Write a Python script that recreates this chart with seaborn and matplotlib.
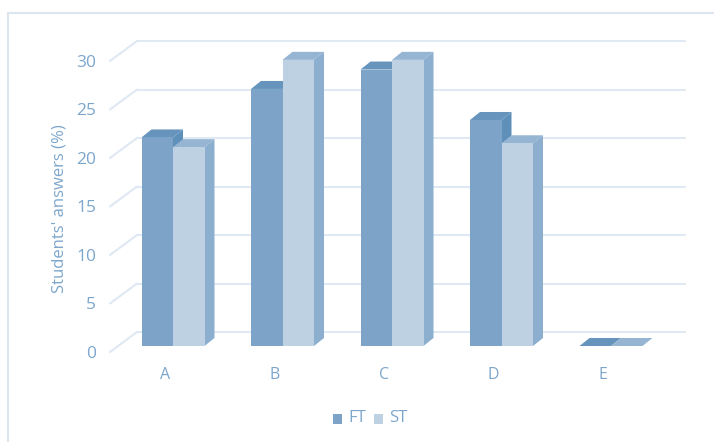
import matplotlib
matplotlib.use("Agg")
import matplotlib.pyplot as plt
import pandas as pd
import seaborn as sns
from matplotlib.patches import Polygon, Rectangle
from matplotlib.transforms import ScaledTranslation

categories = ["A", "B", "C", "D", "E"]
ft_values = [21.5, 26.5, 28.5, 23.3, 0]
st_values = [20.5, 29.5, 29.5, 20.9, 0]
y_ticks = [0, 5, 10, 15, 20, 25, 30]
series_names = ["FT", "ST"]

FONT = "Open Sans"
TEXT = "#7da6cc"
GRID = "#dfe8f3"
FRAME = "#dde6f0"
FRONT = {"FT": "#7da3c8", "ST": "#bed1e3"}
TOP = {"FT": "#6694bd", "ST": "#95b5d3"}
SIDE = {"FT": "#5f90ba", "ST": "#8cafcf"}

W, H = 714, 442
PX_CAT = 109.5     # pixels per category step
PX_VAL = 9.7       # pixels per percentage point
BAR_W = 63 / PX_CAT
DEPTH_X, DEPTH_Y = 10 / PX_CAT, 8 / PX_VAL  # bar depth in data units

sns.set_theme(style="white")
plt.rcParams["font.family"] = [FONT, "DejaVu Sans"]

fig = plt.figure(figsize=(W / 100, H / 100), dpi=100)
left, right, bottom, top = 137, 685, 346, 30
ax = fig.add_axes([left / W, 1 - bottom / H, (right - left) / W, (bottom - top) / H])

df = pd.DataFrame({
    "category": categories * 2,
    "series": ["FT"] * 5 + ["ST"] * 5,
    "value": ft_values + st_values,
})
sns.barplot(data=df, x="category", y="value", hue="series", hue_order=series_names,
            palette=FRONT, width=BAR_W, gap=0, dodge=True, saturation=1,
            legend=False, ax=ax, linewidth=0, zorder=5)
for patch in ax.patches:
    patch.set_clip_on(False)

ax.set_xlim((left - 173) / PX_CAT, (right - 173) / PX_CAT)
ax.set_ylim(0, (bottom - top) / PX_VAL)

# Back wall grid, with the diagonal running from the front plane
back = 14 / PX_VAL
front = -6 / PX_VAL
slant = 27 / PX_CAT
x0, x1 = ax.get_xlim()
for v in y_ticks:
    ax.plot([x0, x1], [v + back, v + back], color=GRID, lw=1.5, zorder=1, clip_on=False)
    ax.plot([x0 - slant, x0], [v + front, v + back], color=GRID, lw=1.5, zorder=1, clip_on=False)

# Top and side faces of each bar, FT first so ST sits in front of it
half = BAR_W / 2
for s, (name, values) in enumerate(zip(series_names, [ft_values, st_values])):
    z = 2 + s
    for i, val in enumerate(values):
        xa = i - half + s * half
        xb = xa + half
        ax.add_patch(Polygon([(xa, val), (xb, val), (xb + DEPTH_X, val + DEPTH_Y),
                              (xa + DEPTH_X, val + DEPTH_Y)],
                             fc=TOP[name], ec="none", zorder=z, clip_on=False))
        if val > 0:
            ax.add_patch(Polygon([(xb, 0), (xb + DEPTH_X, DEPTH_Y),
                                  (xb + DEPTH_X, val + DEPTH_Y), (xb, val)],
                                 fc=SIDE[name], ec="none", zorder=z, clip_on=False))

sns.despine(ax=ax, left=True, bottom=True)
ax.grid(False)
ax.set_facecolor("none")

ax.set_xlabel("")
ax.set_ylabel("")
ax.set_yticks(y_ticks)
ax.set_yticklabels([str(v) for v in y_ticks])
ax.tick_params(axis="y", length=0, pad=29.5, labelsize=12.5, labelcolor=TEXT)
ax.tick_params(axis="x", length=0, pad=15, labelsize=11.5, labelcolor=TEXT)
nudge_y = ScaledTranslation(0, -4 / 72, fig.dpi_scale_trans)
for label in ax.get_yticklabels():
    label.set_transform(label.get_transform() + nudge_y)
nudge_x = ScaledTranslation(-8 * 0.72 / 72, 0, fig.dpi_scale_trans)
for label in ax.get_xticklabels():
    label.set_transform(label.get_transform() + nudge_x)

fig.text(59 / W, 1 - 209 / H, "Students' answers (%)", rotation=90, ha="center", va="center",
         fontsize=12, color=TEXT)

# Legend row under the plot
for name, sq_x, txt_x in zip(series_names, [333, 374], [348, 389]):
    fig.add_artist(Rectangle((sq_x / W, 1 - 424 / H), 9 / W, 10 / H, transform=fig.transFigure,
                             fc=FRONT[name], ec="none"))
    fig.text(txt_x / W, 1 - 418 / H, name, ha="left", va="center", fontsize=12, color=TEXT)

# Outer chart frame
fig.add_artist(plt.Line2D([8 / W, 8 / W], [0, 1 - 13 / H], color=FRAME, lw=1.5))
fig.add_artist(plt.Line2D([8 / W, 1], [1 - 13 / H, 1 - 13 / H], color=FRAME, lw=1.5))

fig.savefig("out.png", dpi=100)
